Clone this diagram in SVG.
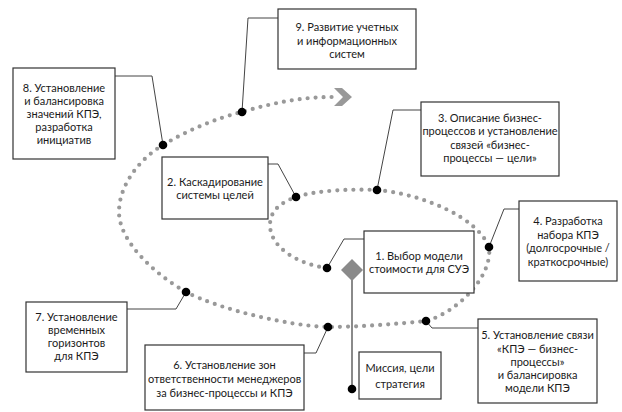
<svg xmlns="http://www.w3.org/2000/svg" width="622" height="412" viewBox="0 0 622 412">
<style>
.box{fill:#fff;stroke:#333;stroke-width:1.2}
.t{font-family:Lato,"Open Sans","Liberation Sans",sans-serif;font-size:11px;fill:#1a1a1a;text-anchor:middle}
.ln{fill:none;stroke:#444;stroke-width:1}
.dot{fill:#000}
.spiral{fill:none;stroke:#999;stroke-width:4.2;stroke-linecap:round;stroke-dasharray:0 8}
</style>
<rect width="622" height="412" fill="#fff"/>
<g id="spiral">
<path class="spiral" d="M327,268 C297,264 270,247 270,225 C270,210 282,202 296,197 C318,190 352,189 377,190 C422,194 477,217 489,247 C493,277 456,313 426,321 C396,324 358,327 328,327 C290,326 221,310 186,292 C156,275 119,242 119,212 C119,184 141,158 163,145 C188,130 217,118 242,112 C272,103 302,97 332,97"/>
<polygon points="334,88 342,88 352,97 342,106 334,106 343,97" fill="#999"/>
</g>
<g id="connectors">
<polyline class="ln" points="364,239 344,239 327,268"/>
<polyline class="ln" points="268,164 278,164 296,197"/>
<polyline class="ln" points="421,110 393,110 377,190"/>
<polyline class="ln" points="519,209 504,209 489,247"/>
<polyline class="ln" points="426,321 432,328 478,328"/>
<polyline class="ln" points="304,353 316,353 328,327"/>
<polyline class="ln" points="127,309 176,309 186,292"/>
<polyline class="ln" points="115,76 152,76 163,145"/>
<polyline class="ln" points="278,18 248,18 242,112"/>
<line x1="352" y1="270" x2="352" y2="389" stroke="#8a8a8a" stroke-width="2"/>
<polygon points="352,259 363,270 352,281 341,270" fill="#8a8a8a"/>
<circle class="dot" cx="327" cy="268" r="4.3"/>
<circle class="dot" cx="296" cy="197" r="4.3"/>
<circle class="dot" cx="377" cy="190" r="4.3"/>
<circle class="dot" cx="489" cy="247" r="4.3"/>
<circle class="dot" cx="426" cy="321" r="4.3"/>
<circle class="dot" cx="328" cy="327" r="4.3"/>
<circle class="dot" cx="186" cy="292" r="4.3"/>
<circle class="dot" cx="163" cy="145" r="4.3"/>
<circle class="dot" cx="242" cy="112" r="4.3"/>
<circle class="dot" cx="352" cy="389" r="4.3"/>
</g>
<g id="n9"><rect class="box" x="278" y="9" width="138" height="60"/>
<text class="t" x="347" y="31">9. Развитие учетных</text><text class="t" x="347" y="45">и информационных</text><text class="t" x="347" y="58">систем</text></g>
<g id="n8"><rect class="box" x="13" y="68" width="102" height="91"/>
<text class="t" x="64" y="92">8. Установление</text><text class="t" x="64" y="105">и балансировка</text><text class="t" x="64" y="118">значений КПЭ,</text><text class="t" x="64" y="131">разработка</text><text class="t" x="64" y="144">инициатив</text></g>
<g id="n2"><rect class="box" x="162" y="157" width="106" height="62"/>
<text class="t" x="215" y="186">2. Каскадирование</text><text class="t" x="215" y="199">системы целей</text></g>
<g id="n3"><rect class="box" x="421" y="102" width="138" height="74"/>
<text class="t" x="490" y="122">3. Описание бизнес-</text><text class="t" x="490" y="135">процессов и установление</text><text class="t" x="490" y="149">связей «бизнес-</text><text class="t" x="490" y="162">процессы — цели»</text></g>
<g id="n4"><rect class="box" x="519" y="201" width="98" height="80"/>
<text class="t" x="568" y="225">4. Разработка</text><text class="t" x="568" y="239">набора КПЭ</text><text class="t" x="568" y="252">(долгосрочные /</text><text class="t" x="568" y="266">краткосрочные)</text></g>
<g id="n1"><rect class="box" x="364" y="231" width="110" height="62"/>
<text class="t" x="419" y="260">1. Выбор модели</text><text class="t" x="419" y="273">стоимости для СУЭ</text></g>
<g id="n7"><rect class="box" x="26" y="302" width="101" height="70"/>
<text class="t" x="76.5" y="321">7. Установление</text><text class="t" x="76.5" y="334">временных</text><text class="t" x="76.5" y="347">горизонтов</text><text class="t" x="76.5" y="360">для КПЭ</text></g>
<g id="n6"><rect class="box" x="145" y="345" width="159" height="65"/>
<text class="t" x="224.5" y="369">6. Установление зон</text><text class="t" x="224.5" y="383">ответственности менеджеров</text><text class="t" x="224.5" y="397">за бизнес-процессы и КПЭ</text></g>
<g id="nm"><rect class="box" x="359" y="352" width="82" height="47"/>
<text class="t" x="400" y="372">Миссия, цели</text><text class="t" x="400" y="388">стратегия</text></g>
<g id="n5"><rect class="box" x="478" y="319" width="119" height="84"/>
<text class="t" x="537.5" y="339">5. Установление связи</text><text class="t" x="537.5" y="353">«КПЭ — бизнес-</text><text class="t" x="537.5" y="366">процессы»</text><text class="t" x="537.5" y="379">и балансировка</text><text class="t" x="537.5" y="392">модели КПЭ</text></g>
</svg>
